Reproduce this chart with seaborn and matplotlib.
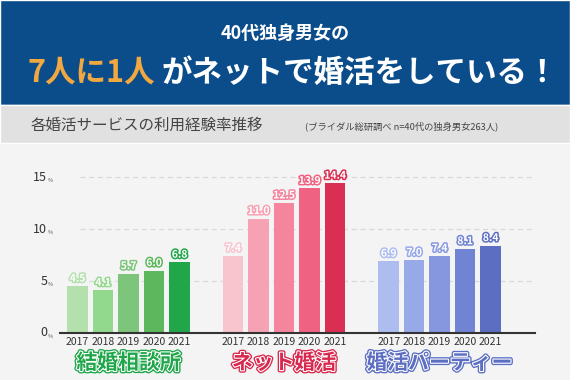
import matplotlib
matplotlib.use("Agg")
import matplotlib.pyplot as plt
import matplotlib.patheffects as pe
import matplotlib.transforms as mtransforms
from matplotlib.patches import Rectangle
import seaborn as sns

# === Data ===
years = ["2017", "2018", "2019", "2020", "2021"]
services = ["結婚相談所", "ネット婚活", "婚活パーティー"]
agency_vals = [4.5, 4.1, 5.7, 6.0, 6.8]
online_vals = [7.4, 11.0, 12.5, 13.9, 14.4]
party_vals = [6.9, 7.0, 7.4, 8.1, 8.4]
y_ticks = [0, 5, 10, 15]

green = ["#b4e0ae", "#93d98d", "#7cc57a", "#5db75c", "#22a64a"]
pink = ["#f8c5cf", "#f6a2b4", "#f5859d", "#ef6281", "#da2f52"]
blue = ["#aebdf0", "#98a9e8", "#8697df", "#7184d4", "#5b6ec2"]
label_colors = ["#1fa64a", "#d8284e", "#5b6ec2"]

group_start = [0, 6.1, 12.2]
values = [agency_vals, online_vals, party_vals]
palettes = [green, pink, blue]

pos, vals, cols = [], [], []
for g, start in enumerate(group_start):
    for i in range(len(years)):
        pos.append(start + i)
        vals.append(values[g][i])
        cols.append(palettes[g][i])

sns.set_theme(style="white")
plt.rcParams["font.family"] = ["Noto Sans CJK JP", "DejaVu Sans"]

W, H = 570, 380
fig = plt.figure(figsize=(W / 100, H / 100), dpi=100)
fig.patch.set_facecolor("#f4f4f4")

# header blocks
fig.patches.append(Rectangle((0, 1 - 105 / H), 1, 105 / H, transform=fig.transFigure,
                             facecolor="#0b4d8b", zorder=0))
fig.patches.append(Rectangle((0, 1 - 143 / H), 1, 38 / H, transform=fig.transFigure,
                             facecolor="#e1e1e1", zorder=0))

fig.text(0.5, 1 - 33 / H, "40代独身男女の", color="white", fontsize=13,
         fontweight="bold", ha="center", va="center")

# headline with two colours
renderer = fig.canvas.get_renderer()
t1 = fig.text(0, 1 - 73 / H, "7人に1人", color="#f2a841", fontsize=22,
              fontweight="bold", va="center", ha="left")
t2 = fig.text(0, 1 - 73 / H, "がネットで婚活をしている！", color="white", fontsize=22,
              fontweight="bold", va="center", ha="left")
w1 = t1.get_window_extent(renderer).width
w2 = t2.get_window_extent(renderer).width
gap = 7
x0 = (W - (w1 + w2 + gap)) / 2 + 8
t1.set_x(x0 / W)
t2.set_x((x0 + w1 + gap) / W)

fig.text(31 / W, 1 - 125 / H, "各婚活サービスの利用経験率推移", color="#444444",
         fontsize=11.2, va="center", ha="left")
fig.text(305 / W, 1 - 126 / H, "(ブライダル総研調べ n=40代の独身男女263人)", color="#444444",
         fontsize=6.7, va="center", ha="left")

# === Chart ===
ax = fig.add_axes([60 / W, (H - 333) / H, 475 / W, 183 / H])
ax.set_facecolor("#f4f4f4")
sns.barplot(x=pos, y=vals, native_scale=True, color=green[0], width=0.8,
            ax=ax, zorder=3)
for patch, c in zip(ax.patches, cols):
    patch.set_facecolor(c)
    patch.set_edgecolor("none")

ax.set_xlim(-0.69, 17.94)
ax.set_ylim(0, 17.6)
for s in ["top", "right", "left"]:
    ax.spines[s].set_visible(False)
ax.spines["bottom"].set_color("#333333")
ax.spines["bottom"].set_linewidth(1.5)
ax.spines["bottom"].set_zorder(4)
ax.set_xticks([])
ax.set_yticks([])

for t in y_ticks[1:]:
    ax.plot([0.1, 18], [t, t], color="#d9d9d9", lw=0.9, ls=(0, (4, 3)), zorder=1)

trans = mtransforms.blended_transform_factory(ax.transAxes, ax.transData)
for t in y_ticks:
    ax.text(-0.027, t, str(t), transform=trans, ha="right", va="center",
            fontsize=9, color="#333333", clip_on=False)
    ax.text(-0.025, t - 0.3, "%", transform=trans, ha="left", va="center",
            fontsize=4, color="#555555", clip_on=False)

for x, v, c in zip(pos, vals, cols):
    ax.text(x, v + 0.25, f"{v:.1f}", ha="center", va="bottom", fontsize=7.5,
            fontweight="bold", color="white", zorder=5,
            path_effects=[pe.Stroke(linewidth=2.2, foreground=c), pe.Normal()])
    yr = years[pos.index(x) % 5]
    ax.text(x, -0.85, yr, ha="center", va="center", fontsize=7.5, color="#333333",
            clip_on=False)

for g, start in enumerate(group_start):
    ax.text(start + 2, -2.85, services[g], ha="center", va="center", fontsize=15,
            fontweight="bold", color=label_colors[g], clip_on=False,
            path_effects=[pe.Stroke(linewidth=3.5, foreground=label_colors[g]),
                          pe.Stroke(linewidth=1.6, foreground="white"), pe.Normal()])

fig.savefig("out.png", dpi=100, facecolor=fig.get_facecolor())
